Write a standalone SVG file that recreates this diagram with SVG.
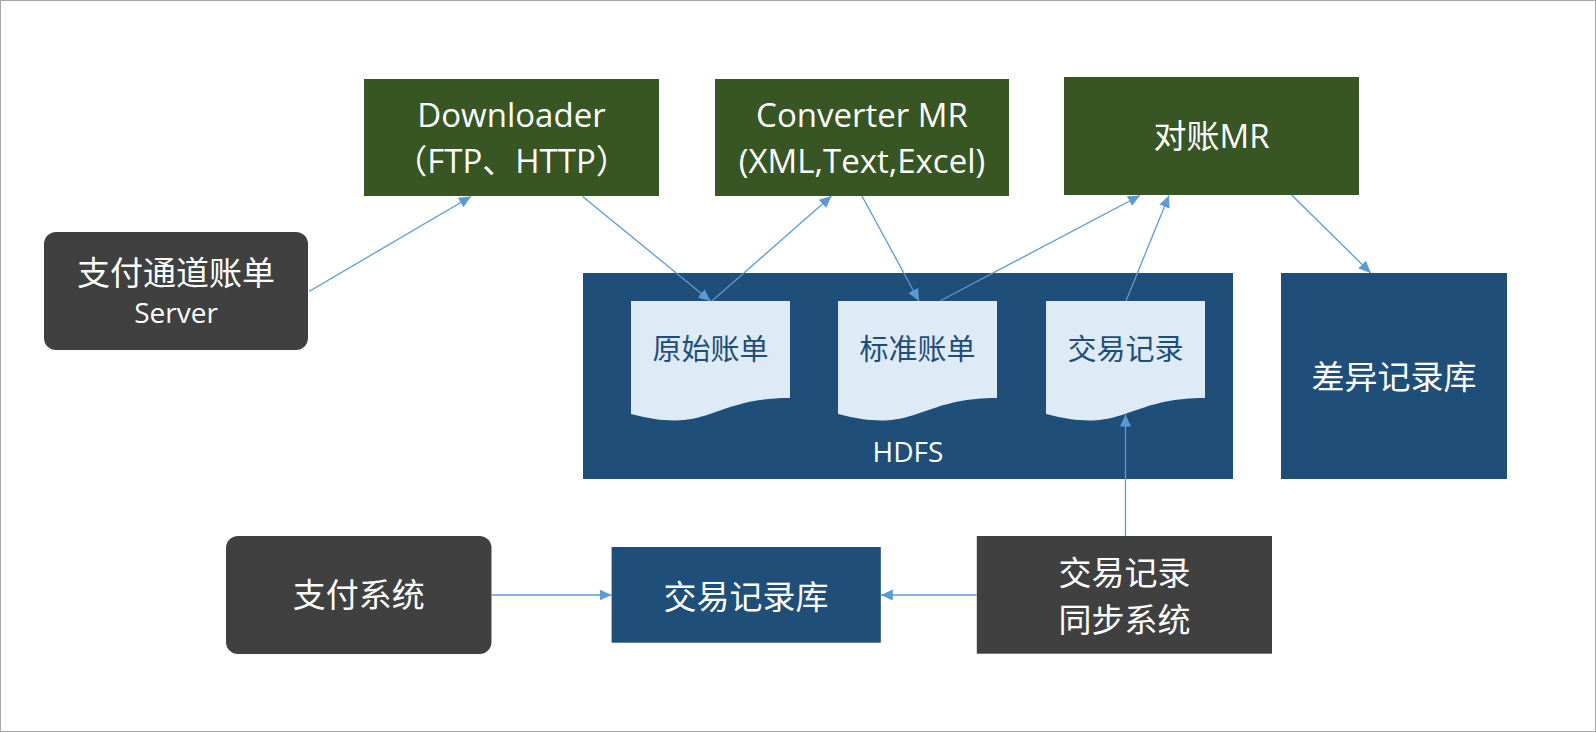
<svg xmlns="http://www.w3.org/2000/svg" width="1596" height="732" viewBox="0 0 1596 732">
<style>
text{font-family:"Open Sans","Noto Sans CJK SC",sans-serif;text-anchor:middle;fill:#fff}
.lbl{font-size:33px}
.sm{font-size:28px}
.doctxt{font-size:29px;fill:#1F4E79}
.green{fill:#375623}
.gray{fill:#404040}
.blue{fill:#1F4E79}
.doc{fill:#DEEBF7}
.conn line{stroke:#5B9BD5;stroke-width:1.3;fill:none;marker-end:url(#arr)}
</style>
<defs>
<marker id="arr" markerUnits="userSpaceOnUse" markerWidth="12" markerHeight="12" refX="12" refY="6" orient="auto">
<path d="M0,0.5 L12,6 L0,11.5 Z" fill="#5B9BD5"/>
</marker>
</defs>
<rect x="0.5" y="0.5" width="1595" height="731" fill="#fff" stroke="#A6A6A6" stroke-width="1"/>

<g id="hdfs">
<rect class="blue" x="583" y="273" width="650" height="206"/>
<text class="sm" x="908" y="462">HDFS</text>
</g>
<g id="doc-raw">
<path class="doc" d="M631,301 H790 V398 C710.5,398 710.5,435 631,414 Z"/>
<text class="doctxt" x="710.5" y="360">原始账单</text>
</g>
<g id="doc-std">
<path class="doc" d="M838,301 H997 V398 C917.5,398 917.5,435 838,414 Z"/>
<text class="doctxt" x="917.5" y="360">标准账单</text>
</g>
<g id="doc-trade">
<path class="doc" d="M1046,301 H1205 V398 C1125.5,398 1125.5,435 1046,414 Z"/>
<text class="doctxt" x="1125.5" y="360">交易记录</text>
</g>

<g id="downloader">
<rect class="green" x="364" y="79" width="295" height="117"/>
<text class="lbl" x="511.5" y="127">Downloader</text>
<text class="lbl" x="511.5" y="173">（FTP、HTTP）</text>
</g>
<g id="converter">
<rect class="green" x="715" y="79" width="294" height="117"/>
<text class="lbl" x="862" y="127">Converter MR</text>
<text class="lbl" x="862" y="173">(XML,Text,Excel)</text>
</g>
<g id="reconcile">
<rect class="green" x="1064" y="77" width="295" height="118"/>
<text class="lbl" x="1211.5" y="148">对账MR</text>
</g>
<g id="channel-server">
<rect class="gray" x="44" y="232" width="264" height="118" rx="12"/>
<text class="lbl" x="176" y="285">支付通道账单</text>
<text class="sm" x="176" y="323">Server</text>
</g>
<g id="diff-db">
<rect class="blue" x="1281" y="273" width="226" height="206"/>
<text class="lbl" x="1394" y="389">差异记录库</text>
</g>
<g id="pay-system">
<rect class="gray" x="226" y="536" width="265.5" height="118" rx="12"/>
<text class="lbl" x="358.75" y="606.5">支付系统</text>
</g>
<g id="trade-db">
<rect class="blue" x="611.6" y="547" width="269.2" height="95.7"/>
<text class="lbl" x="746" y="608.5">交易记录库</text>
</g>
<g id="sync-system">
<rect class="gray" x="976.8" y="536" width="295.2" height="117.7"/>
<text class="lbl" x="1124.5" y="584.5">交易记录</text>
<text class="lbl" x="1124.5" y="631.5">同步系统</text>
</g>

<g id="connectors" class="conn">
<line x1="309" y1="291.5" x2="471" y2="196.5"/>
<line x1="582.6" y1="196.5" x2="710.5" y2="301"/>
<line x1="712" y1="301" x2="831.5" y2="196"/>
<line x1="862" y1="196" x2="919" y2="301"/>
<line x1="940" y1="301" x2="1140" y2="195.5"/>
<line x1="1126" y1="301" x2="1169" y2="195.5"/>
<line x1="1291.7" y1="195" x2="1370.7" y2="273"/>
<line x1="1125.5" y1="536" x2="1125.5" y2="414.5"/>
<line x1="491.5" y1="595" x2="611.6" y2="595"/>
<line x1="976.8" y1="595" x2="880.8" y2="595"/>
</g>
</svg>
